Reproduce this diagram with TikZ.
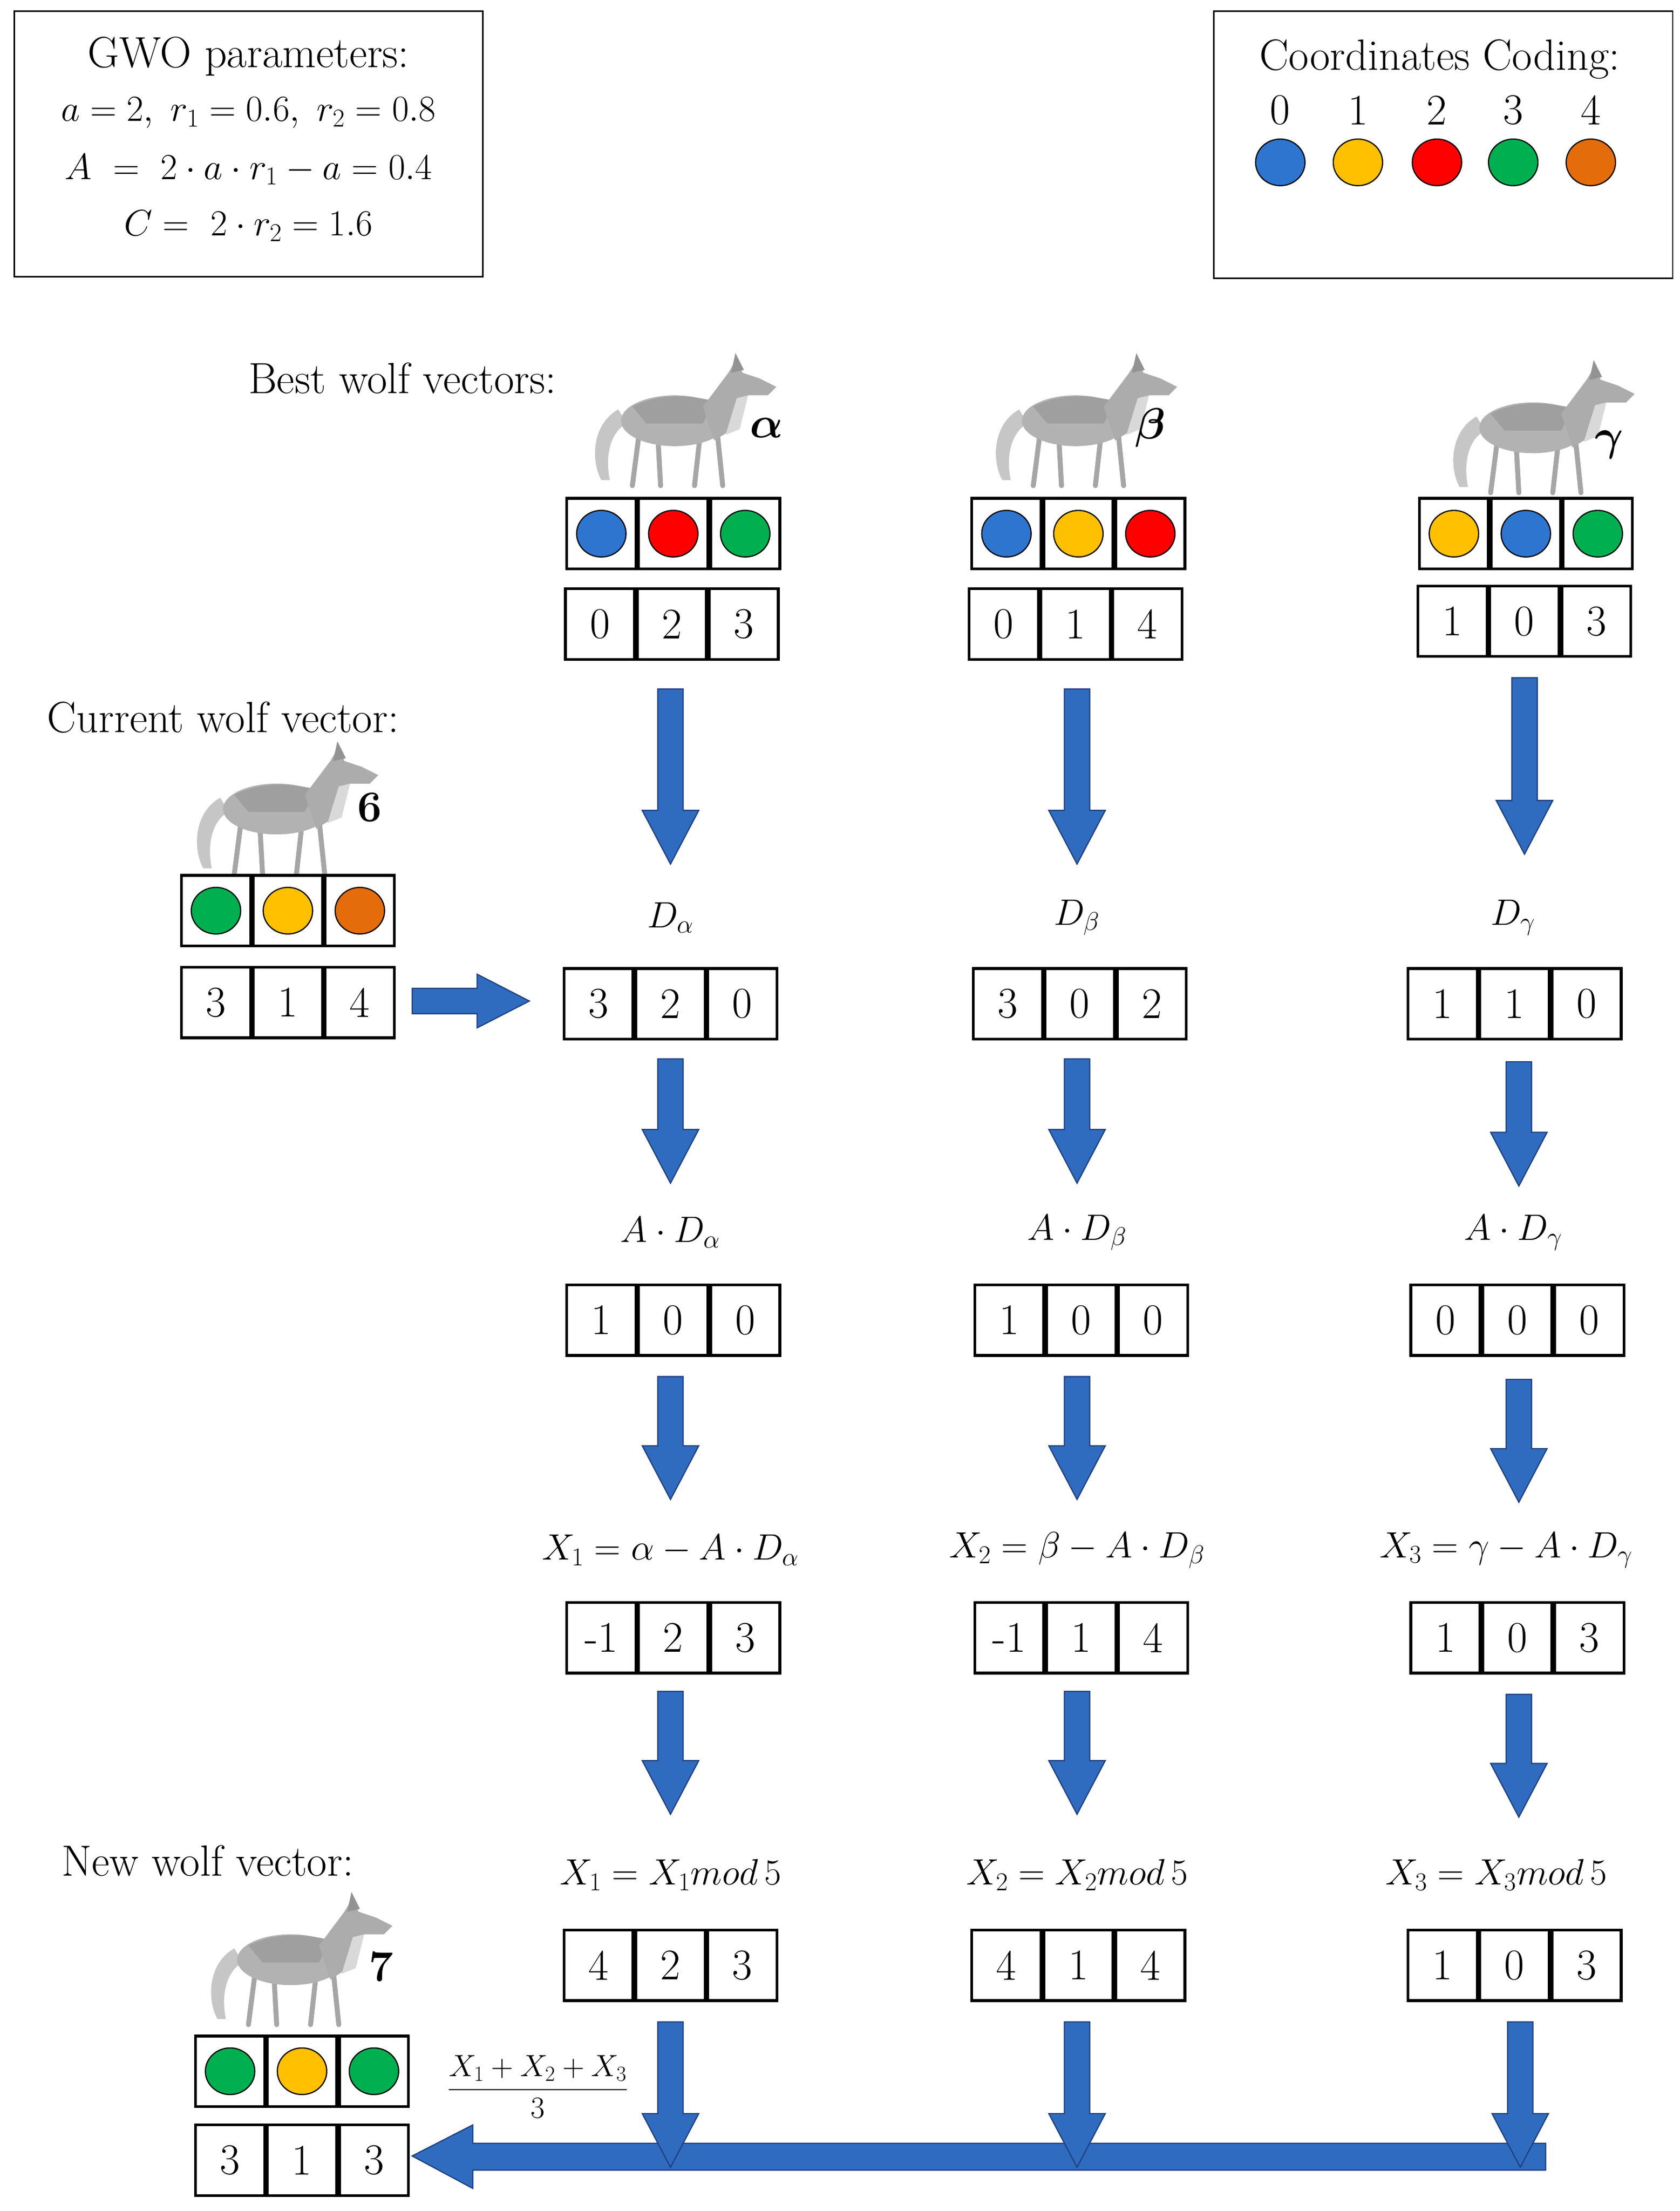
\RequirePackage{fix-cm}
\documentclass[tikz,border=0pt]{standalone}
\usepackage{amsmath}
\usetikzlibrary{shapes.geometric}
\begin{document}
\definecolor{cb}{HTML}{2E75D0}
\definecolor{cy}{HTML}{FFC000}
\definecolor{cr}{HTML}{FF0000}
\definecolor{cg}{HTML}{00B050}
\definecolor{co}{HTML}{E46C0A}
\definecolor{af}{HTML}{2F6CC0}
\definecolor{al}{HTML}{1F3F7F}
\begin{tikzpicture}[x=0.05cm,y=-0.05cm,
  every node/.style={font=\fontsize{44}{52}\selectfont},
  mth/.style={font=\fontsize{37}{44}\selectfont},
  cell/.style={draw,line width=2.8pt,minimum width=2.45cm,minimum height=2.5cm,inner sep=0pt},
  dot/.style={draw=black,line width=1.2pt,ellipse,minimum width=1.75cm,minimum height=1.65cm,inner sep=0pt},
  frame/.style={draw,line width=1.5pt},
  lbl/.style={font=\fontsize{44}{52}\selectfont\bfseries}]
\useasboundingbox (0,0) rectangle (1190,1566);
\newcommand\nrow[6]{%
  \node[cell] (#1a) at (#2,#3) {#4};
  \node[cell,anchor=west] (#1b) at (#1a.east) {#5};
  \node[cell,anchor=west] (#1c) at (#1b.east) {#6};}
\newcommand\crow[6]{%
  \nrow{#1}{#2}{#3}{}{}{}
  \node[dot,fill=#4] at (#1a) {};
  \node[dot,fill=#5] at (#1b) {};
  \node[dot,fill=#6] at (#1c) {};}
\newcommand\dnarrow[3]{%
  \filldraw[fill=af,draw=al,line width=1.2pt] (#1-9,#2) -- (#1+9,#2) -- (#1+9,#3-38) -- (#1+20,#3-38) -- (#1,#3) -- (#1-20,#3-38) -- (#1-9,#3-38) -- cycle;}
\tikzset{pics/wolf/.style={code={
  \fill[gray!45] (-40,-10) .. controls (-58,0) and (-60,25) .. (-52,40) -- (-46,40) .. controls (-50,20) and (-44,5) .. (-34,0) -- cycle;
  \draw[gray!70,line width=5pt,line cap=round] (-25,5) -- (-30,44) (-12,8) -- (-10,44) (18,8) -- (14,44) (30,5) -- (34,44);
  \fill[gray!60] (0,-2) ellipse [x radius=38, y radius=18];
  \fill[gray!75] (-30,-12) .. controls (-10,-22) and (10,-20) .. (28,-16) -- (20,0) -- (-20,0) -- cycle;
  \fill[gray!65] (20,-12) -- (38,-36) -- (44,-46) -- (48,-36) -- (60,-32) -- (72,-26) -- (66,-20) -- (52,-20) -- (44,2) -- (28,12) -- cycle;
  \fill[gray!85] (40,-36) -- (43,-50) -- (49,-38) -- cycle;
  \fill[gray!30] (44,-18) -- (52,-20) -- (46,4) -- (36,8) -- cycle;
}}}
% parameter box
\draw[frame] (10,8) rectangle (342,196);
\node at (176,40) {GWO parameters:};
\node[mth] at (176,80) {$a=2,\ r_1=0.6,\ r_2=0.8$};
\node[mth] at (176,120) {$A\ =\ 2\cdot a\cdot r_1-a=0.4$};
\node[mth] at (176,160) {$C=\ 2\cdot r_2=1.6$};
% coding box
\draw[frame] (860,8) rectangle (1185,197);
\node at (1020,42) {Coordinates Coding:};
\foreach \x/\n/\c in {907/0/cb,962/1/cy,1018/2/cr,1072/3/cg,1127/4/co}{
  \node at (\x,78) {\n};
  \node[dot,fill=\c] at (\x,115) {};}
% best wolves
\node at (285,268) {Best wolf vectors:};
\pic at (478,300) {wolf}; \node[lbl] at (543,303) {$\boldsymbol{\alpha}$};
\pic at (762,300) {wolf}; \node[lbl] at (815,303) {$\boldsymbol{\beta}$};
\pic at (1086,305) {wolf}; \node[lbl] at (1140,315) {$\boldsymbol{\gamma}$};
\crow{ca}{426}{378}{cb}{cr}{cg}
\crow{cbt}{713}{378}{cb}{cy}{cr}
\crow{cgm}{1030}{378}{cy}{cb}{cg}
\nrow{na}{425}{442}{0}{2}{3}
\nrow{nb}{711}{442}{0}{1}{4}
\nrow{ng}{1029}{440}{1}{0}{3}
\dnarrow{475}{488}{612}
\dnarrow{763}{488}{612}
\dnarrow{1080}{480}{605}
% current wolf
\node at (158,508) {Current wolf vector:};
\pic at (196,575) {wolf}; \node[lbl] at (262,572) {6};
\crow{cc}{153}{645}{cg}{cy}{co}
\nrow{nc}{153}{710}{3}{1}{4}
\filldraw[fill=af,draw=al,line width=1.2pt] (292,700) -- (338,700) -- (338,690) -- (375,709) -- (338,728) -- (338,718) -- (292,718) -- cycle;
% D
\node[mth] at (475,650) {$D_\alpha$};
\node[mth] at (763,650) {$D_\beta$};
\node[mth] at (1072,650) {$D_\gamma$};
\nrow{da}{424}{711}{3}{2}{0}
\nrow{db}{714}{711}{3}{0}{2}
\nrow{dg}{1022}{711}{1}{1}{0}
\dnarrow{475}{750}{838}
\dnarrow{763}{750}{838}
\dnarrow{1076}{752}{840}
% A D
\node[mth] at (475,873) {$A\cdot D_\alpha$};
\node[mth] at (763,873) {$A\cdot D_\beta$};
\node[mth] at (1072,873) {$A\cdot D_\gamma$};
\nrow{ada}{426}{935}{1}{0}{0}
\nrow{adb}{715}{935}{1}{0}{0}
\nrow{adg}{1024}{935}{0}{0}{0}
\dnarrow{475}{975}{1062}
\dnarrow{763}{975}{1062}
\dnarrow{1076}{977}{1064}
% X
\node[mth] at (475,1098) {$X_1=\alpha-A\cdot D_\alpha$};
\node[mth] at (763,1098) {$X_2=\beta-A\cdot D_\beta$};
\node[mth] at (1067,1098) {$X_3=\gamma-A\cdot D_\gamma$};
\nrow{xa}{426}{1160}{-1}{2}{3}
\nrow{xb}{715}{1160}{-1}{1}{4}
\nrow{xg}{1024}{1160}{1}{0}{3}
\dnarrow{475}{1198}{1285}
\dnarrow{763}{1198}{1285}
\dnarrow{1076}{1200}{1287}
% mod
\node at (147,1318) {New wolf vector:};
\node[mth] at (475,1328) {$X_1=X_1mod\,5$};
\node[mth] at (763,1328) {$X_2=X_2mod\,5$};
\node[mth] at (1060,1328) {$X_3=X_3mod\,5$};
\nrow{ma}{424}{1392}{4}{2}{3}
\nrow{mb}{713}{1392}{4}{1}{4}
\nrow{mg}{1022}{1392}{1}{0}{3}
% new wolf
\pic at (206,1390) {wolf}; \node[lbl] at (270,1393) {7};
\crow{cn}{163}{1467}{cg}{cy}{cg}
\nrow{nn}{163}{1530}{3}{1}{3}
\node[font=\fontsize{31}{38}\selectfont] at (381,1478) {$\dfrac{X_1+X_2+X_3}{3}$};
% collecting arrows
\filldraw[fill=af,draw=al,line width=1.2pt] (1095,1518) -- (335,1518) -- (335,1505) -- (292,1527) -- (335,1550) -- (335,1537) -- (1095,1537) -- cycle;
\dnarrow{475}{1432}{1535}
\dnarrow{763}{1432}{1535}
\dnarrow{1077}{1432}{1535}
\end{tikzpicture}
\end{document}
